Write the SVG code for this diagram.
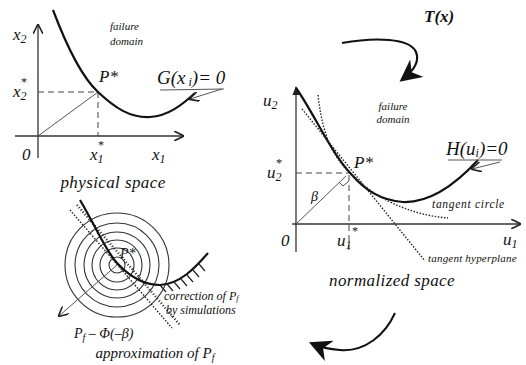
<svg xmlns="http://www.w3.org/2000/svg" width="526" height="365" viewBox="0 0 526 365">
<defs>
<style>
.ax{stroke:#333;stroke-width:1.3;fill:none}
.thin{stroke:#555;stroke-width:1;fill:none}
.crv{stroke:#111;stroke-width:2.2;fill:none}
.dsh{stroke:#444;stroke-width:1;fill:none;stroke-dasharray:6 4}
.dot{stroke:#222;stroke-width:1.4;fill:none;stroke-dasharray:1.5 1.6}
.circ{stroke:#333;stroke-width:1.1;fill:none}
.hat{stroke:#222;stroke-width:1.2}
text{font-family:"Liberation Serif",serif;font-style:italic;fill:#111}
.lbl{font-size:17px}
.big{font-size:19px}
.sm{font-size:11px}
.tn{font-size:11.5px;letter-spacing:0.7px}
.cap{font-size:14px}
.cap2{font-size:17px;letter-spacing:0.4px}
</style>
<marker id="open" viewBox="0 0 10 10" refX="9" refY="5" markerWidth="10" markerHeight="10" orient="auto" markerUnits="userSpaceOnUse"><path d="M0,0 L10,5 L0,10" fill="none" stroke="#222" stroke-width="1.6"/></marker>
<marker id="fill" viewBox="0 0 10 10" refX="9" refY="5" markerWidth="9" markerHeight="9" orient="auto" markerUnits="userSpaceOnUse"><path d="M0,1 L10,5 L0,9 Z" fill="#222"/></marker>
<marker id="big" viewBox="0 0 10 10" refX="8" refY="5" markerWidth="22" markerHeight="22" orient="auto" markerUnits="userSpaceOnUse"><path d="M0,0 L10,5 L0,10 L3,5 Z" fill="#111"/></marker>
</defs>
<rect width="526" height="365" fill="#fff"/>

<g id="physical">
<line class="ax" x1="15" y1="136" x2="183" y2="136" marker-end="url(#open)"/>
<line class="ax" x1="38" y1="158" x2="38" y2="25" marker-end="url(#open)"/>
<line class="dsh" x1="38" y1="92" x2="98" y2="92"/>
<line class="dsh" x1="98" y1="92" x2="98" y2="136"/>
<line class="thin" x1="38" y1="136" x2="98" y2="92"/>
<path class="crv" d="M53,10 C70,55 85,80 98,92 C115,108 130,118 150,117 C168,116 182,105 195,93"/>
<line class="thin" x1="160" y1="90" x2="224" y2="89"/>
<line class="thin" x1="222" y1="89" x2="190" y2="99" marker-end="url(#open)"/>
<text class="lbl" x="13" y="40">x<tspan font-size="12" dy="3">2</tspan></text>
<text class="lbl" x="13" y="97">x<tspan font-size="12" dy="3">2</tspan><tspan font-size="12" dx="-6" dy="-14">*</tspan></text>
<text class="lbl" x="22" y="160">0</text>
<text class="lbl" x="90" y="160">x<tspan font-size="12" dy="3">1</tspan><tspan font-size="12" dx="-6" dy="-14">*</tspan></text>
<text class="lbl" x="152" y="160">x<tspan font-size="12" dy="3">1</tspan></text>
<text class="lbl" x="99" y="82">P*</text>
<text class="sm" x="110" y="30">failure</text>
<text class="sm" x="110" y="45">domain</text>
<text class="big" x="157" y="84">G(x<tspan font-size="12" dy="2"> i</tspan><tspan dy="-2">)= 0</tspan></text>
<text class="cap2" x="113" y="188" text-anchor="middle">physical space</text>
</g>

<g id="normalized">
<line class="ax" x1="292" y1="224" x2="520" y2="224" marker-end="url(#open)"/>
<line class="ax" x1="296" y1="252" x2="296" y2="87" marker-end="url(#fill)"/>
<line class="dsh" x1="296" y1="173" x2="349" y2="173"/>
<line class="dsh" x1="349" y1="175" x2="349" y2="250"/>
<line class="thin" x1="296" y1="224" x2="346" y2="176"/>
<path class="thin" d="M339,182 L343,186 L349,181"/>
<path class="crv" d="M296,88 C305,100 318,125 330,145 C338,158 345,168 352,175 C365,190 380,200 403,202 C430,203 455,185 478,160"/>
<line class="dot" x1="302" y1="109" x2="425" y2="261"/>
<path class="dot" d="M318,95 C322,130 330,155 352,175 C375,198 410,215 448,218"/>
<line class="thin" x1="448" y1="160" x2="502" y2="160"/>
<line class="thin" x1="500" y1="162" x2="472" y2="169" marker-end="url(#open)"/>
<text class="lbl" x="263" y="106">u<tspan font-size="12" dy="3">2</tspan></text>
<text class="lbl" x="267" y="178">u<tspan font-size="12" dy="3">2</tspan><tspan font-size="12" dx="-6" dy="-14">*</tspan></text>
<text class="lbl" x="281" y="246">0</text>
<text class="lbl" x="337" y="246">u<tspan font-size="12" dy="3">1</tspan><tspan font-size="12" dy="-14">*</tspan></text>
<text class="lbl" x="503" y="245">u<tspan font-size="12" dy="3">1</tspan></text>
<text class="cap" x="311" y="201">β</text>
<text class="lbl" x="354" y="168">P*</text>
<text class="sm" x="393" y="110" text-anchor="middle">failure</text>
<text class="sm" x="393" y="123" text-anchor="middle">domain</text>
<text class="big" x="446" y="155">H(u<tspan font-size="12" dy="2">i</tspan><tspan dy="-2">)=0</tspan></text>
<text class="tn" x="432" y="208">tangent circle</text>
<text font-size="11" letter-spacing="0.2" x="428" y="262">tangent hyperplane</text>
<text class="cap2" x="392" y="286" text-anchor="middle">normalized space</text>
<text font-size="17" font-weight="bold" x="424" y="22">T(x)</text>
</g>

<g id="approximation">
<circle class="circ" cx="117" cy="265" r="52"/>
<circle class="circ" cx="117" cy="265" r="42"/>
<circle class="circ" cx="117" cy="265" r="33"/>
<circle class="circ" cx="117" cy="265" r="25"/>
<circle class="circ" cx="117" cy="265" r="17"/>
<circle class="circ" cx="117" cy="265" r="8"/>
<line class="dot" x1="70" y1="210" x2="172" y2="328"/>
<line x1="77" y1="205" x2="180" y2="325" stroke="#222" stroke-width="2.4" stroke-dasharray="1 2"/>
<path class="crv" d="M80,200 C95,225 105,250 117,263 C130,277 145,285 160,285 C180,284 195,268 208,253"/>
<g class="hat">
<line x1="160" y1="285" x2="166" y2="292"/>
<line x1="167" y1="284" x2="173" y2="291"/>
<line x1="174" y1="282" x2="180" y2="289"/>
<line x1="181" y1="279" x2="187" y2="286"/>
<line x1="187" y1="275" x2="193" y2="282"/>
<line x1="193" y1="270" x2="199" y2="277"/>
<line x1="199" y1="264" x2="205" y2="271"/>
</g>
<line class="thin" x1="117" y1="265" x2="59" y2="316" marker-end="url(#open)"/>
<text class="cap" x="120" y="258">P*</text>
<text class="cap" x="74" y="338">P<tspan font-size="10" dy="3">f</tspan><tspan dy="-3"> – Φ(–β)</tspan></text>
<text font-size="12" x="164" y="300">correction of P<tspan font-size="8" dy="1">f</tspan></text>
<text font-size="12" x="166" y="314">by simulations</text>
<text x="155" y="358" text-anchor="middle" style="font-size:15px">approximation of P<tspan font-size="10" dy="3">f</tspan></text>
</g>

<g id="connectors">
<path d="M342,43 C375,37 410,38 416,52 C420,62 412,72 403,79" fill="none" stroke="#111" stroke-width="2.2" marker-end="url(#big)"/>
<path d="M395,313 C385,335 365,352 340,350 C328,349 320,347 313,344" fill="none" stroke="#111" stroke-width="2" marker-end="url(#big)"/>
</g>
</svg>
